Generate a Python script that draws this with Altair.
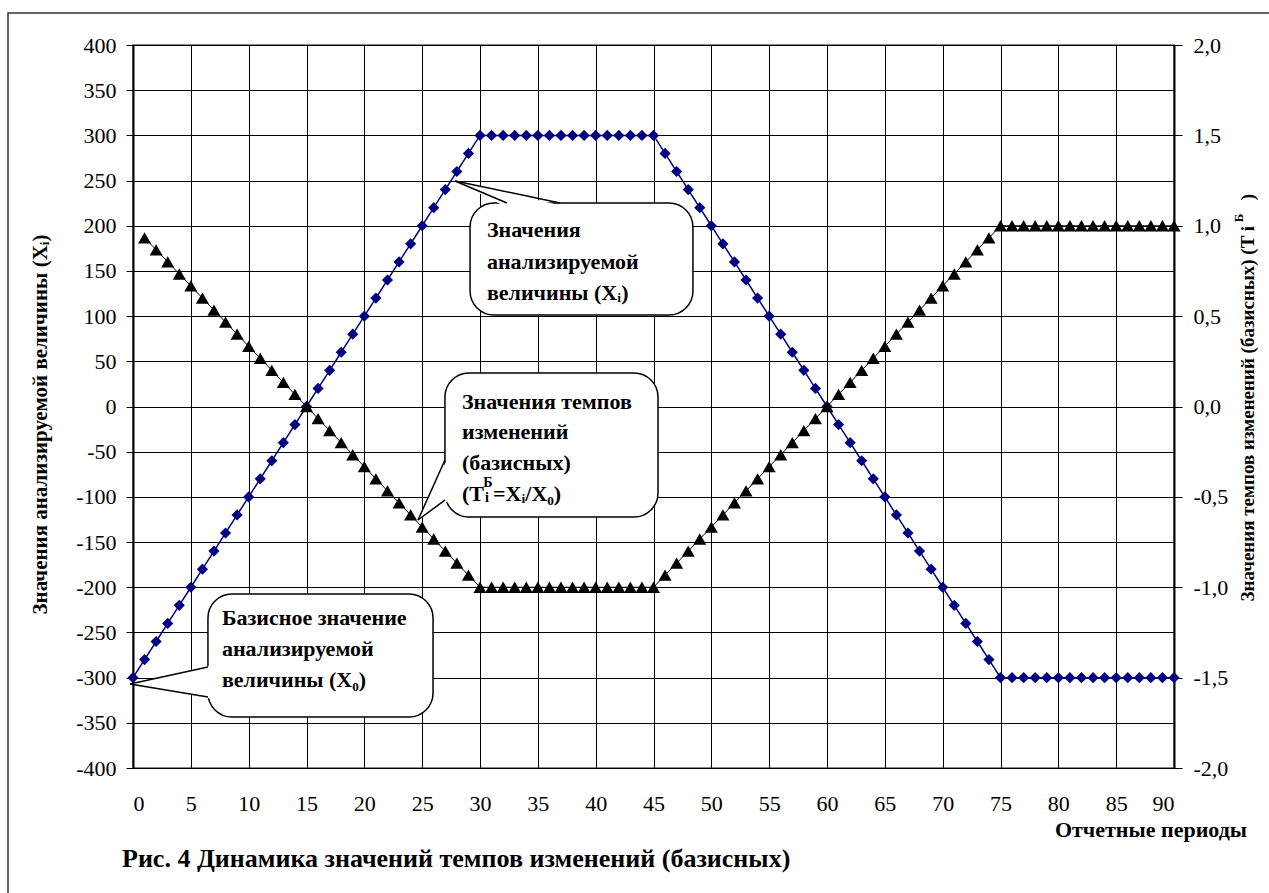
import altair as alt
import pandas as pd

FONT = "'Liberation Serif', 'Times New Roman', 'DejaVu Serif', serif"

# ---- data ----
periods = [0, 1, 2, 3, 4, 5, 6, 7, 8, 9, 10, 11, 12, 13, 14, 15, 16, 17, 18, 19, 20,
           21, 22, 23, 24, 25, 26, 27, 28, 29, 30, 31, 32, 33, 34, 35, 36, 37, 38, 39, 40,
           41, 42, 43, 44, 45, 46, 47, 48, 49, 50, 51, 52, 53, 54, 55, 56, 57, 58, 59, 60,
           61, 62, 63, 64, 65, 66, 67, 68, 69, 70, 71, 72, 73, 74, 75, 76, 77, 78, 79, 80,
           81, 82, 83, 84, 85, 86, 87, 88, 89, 90]

x_values = [-300, -280, -260, -240, -220, -200, -180, -160, -140, -120, -100, -80, -60, -40, -20,
            0, 20, 40, 60, 80, 100, 120, 140, 160, 180, 200, 220, 240, 260, 280, 300,
            300, 300, 300, 300, 300, 300, 300, 300, 300, 300, 300, 300, 300, 300, 300,
            280, 260, 240, 220, 200, 180, 160, 140, 120, 100, 80, 60, 40, 20, 0,
            -20, -40, -60, -80, -100, -120, -140, -160, -180, -200, -220, -240, -260, -280, -300,
            -300, -300, -300, -300, -300, -300, -300, -300, -300, -300, -300, -300, -300, -300, -300]

t_periods = periods[1:]
t_values = [0.933, 0.867, 0.8, 0.733, 0.667, 0.6, 0.533, 0.467, 0.4, 0.333, 0.267, 0.2, 0.133, 0.067, 0,
            -0.067, -0.133, -0.2, -0.267, -0.333, -0.4, -0.467, -0.533, -0.6, -0.667, -0.733, -0.8, -0.867, -0.933, -1,
            -1, -1, -1, -1, -1, -1, -1, -1, -1, -1, -1, -1, -1, -1, -1,
            -0.933, -0.867, -0.8, -0.733, -0.667, -0.6, -0.533, -0.467, -0.4, -0.333, -0.267, -0.2, -0.133, -0.067, 0,
            0.067, 0.133, 0.2, 0.267, 0.333, 0.4, 0.467, 0.533, 0.6, 0.667, 0.733, 0.8, 0.867, 0.933, 1,
            1, 1, 1, 1, 1, 1, 1, 1, 1, 1, 1, 1, 1, 1, 1]

x_ticks = [0, 5, 10, 15, 20, 25, 30, 35, 40, 45, 50, 55, 60, 65, 70, 75, 80, 85, 90]
left_ticks = [-400, -350, -300, -250, -200, -150, -100, -50, 0, 50, 100, 150, 200, 250, 300, 350, 400]
right_ticks = [-2.0, -1.5, -1.0, -0.5, 0.0, 0.5, 1.0, 1.5, 2.0]

df_x = pd.DataFrame({"period": periods, "value": x_values})
df_t = pd.DataFrame({"period": t_periods, "value": t_values})

# ---- callout annotations (in data units of the left axis) ----
boxes = pd.DataFrame({
    "x": [6.48, 29.14, 26.97],
    "x2": [25.94, 48.41, 45.39],
    "y": [-207.5, 225.2, 37.1],
    "y2": [-343.6, 101.2, -122.3],
})
ptr_v1 = pd.DataFrame({"x": [-0.26, 6.70], "y": [-307.0, -286.5], "y2": [-307.0, -323.2]})
ptr_v3 = pd.DataFrame({"x": [24.64, 27.20], "y": [-125.6, -57.5], "y2": [-125.6, -105.2]})
ptr_h2 = pd.DataFrame({"y": [249.5, 221.9], "x": [27.84, 32.1], "x2": [27.84, 37.2]})
ptr_edges = pd.DataFrame({
    "x": [-0.26, -0.26, 24.64, 24.64, 27.84, 27.84],
    "y": [-307.0, -307.0, -125.6, -125.6, 249.5, 249.5],
    "x2": [6.48, 6.48, 26.97, 26.97, 32.33, 36.92],
    "y2": [-288.2, -321.4, -59.2, -103.5, 225.2, 225.2],
})

callout_lines = pd.DataFrame({
    "x": [7.69, 7.69, 7.69, 30.6, 30.6, 30.6, 28.44, 28.44, 28.44, 28.44, 31.12],
    "y": [-234.0, -268.3, -302.6, 195.3, 159.9, 125.6, 5.0, -28.2, -62.5, -96.8, -96.8],
    "text": ["Базисное значение", "анализируемой", "величины (X₀)",
             "Значения", "анализируемой", "величины (Xᵢ)",
             "Значения темпов", "изменений", "(базисных)", "(T", "=Xᵢ/X₀)"],
})
small_marks = pd.DataFrame({"x": [30.60, 30.68], "y": [-101.5, -85.0], "text": ["i", "Б"]})

one = pd.DataFrame({"k": [0]})

xs = alt.Scale(domain=[0, 90], nice=False, zero=False)
ys_left = alt.Scale(domain=[-400, 400], nice=False, zero=False)
ys_right = alt.Scale(domain=[-2, 2], nice=False, zero=False)

x_axis = alt.Axis(values=x_ticks, labelExpr="'' + datum.value", grid=True, gridColor="black",
                  gridWidth=1, gridOpacity=1, ticks=False, domain=False, labelPadding=25,
                  labelFont=FONT, labelFontSize=22, labelColor="black", title=None)
left_axis = alt.Axis(values=left_ticks, labelExpr="'' + datum.value", grid=True, gridColor="black",
                     gridWidth=1, gridOpacity=1, tickSize=7, tickColor="black", labelPadding=10,
                     domainColor="black", domainWidth=2,
                     labelFont=FONT, labelFontSize=22, labelColor="black",
                     title="Значения анализируемой величины (Xᵢ)", titleFont=FONT, titleFontSize=21,
                     titleFontWeight="bold", titleColor="black", titleAngle=270,
                     titleX=-93, titleY=379, titleAlign="center", titleBaseline="middle")
right_axis = alt.Axis(values=right_ticks, orient="right",
                      labelExpr="(datum.value < 0 ? '-' : '') + replace(format(abs(datum.value), '.1f'), '.', ',')",
                      grid=False, tickSize=8, tickColor="black", labelPadding=11,
                      domainColor="black", domainWidth=2,
                      labelFont=FONT, labelFontSize=22, labelColor="black", title=None)

X = lambda f: alt.X(f, type="quantitative", scale=xs, axis=x_axis)
YL = lambda f: alt.Y(f, type="quantitative", scale=ys_left, axis=left_axis)
YR = lambda f: alt.Y(f, type="quantitative", scale=ys_right, axis=right_axis)

blue_line = alt.Chart(df_x).mark_line(color="#000080", strokeWidth=1.5).encode(
    x=X("period"), y=YL("value"))
blue_pts = alt.Chart(df_x).mark_point(shape="diamond", filled=True, color="#000080", size=125, opacity=1).encode(
    x=X("period"), y=YL("value"))

box_layer = alt.Chart(boxes).mark_rect(fill="white", stroke="black", strokeWidth=1.5, cornerRadius=24).encode(
    x=X("x"), x2="x2", y=YL("y"), y2="y2")
p1 = alt.Chart(ptr_v1).mark_area(fill="white", orient="vertical", opacity=1).encode(
    x=X("x"), y=YL("y"), y2="y2")
p3 = alt.Chart(ptr_v3).mark_area(fill="white", orient="vertical", opacity=1).encode(
    x=X("x"), y=YL("y"), y2="y2")
p2 = alt.Chart(ptr_h2).mark_area(fill="white", orient="horizontal", opacity=1).encode(
    y=YL("y"), x=X("x"), x2="x2")
edges = alt.Chart(ptr_edges).mark_rule(color="black", strokeWidth=1.5).encode(
    x=X("x"), y=YL("y"), x2="x2", y2="y2")
texts = alt.Chart(callout_lines).mark_text(font=FONT, fontSize=22, fontWeight="bold", align="left",
                                           baseline="middle", color="black").encode(
    x=X("x"), y=YL("y"), text="text:N")
smalls = alt.Chart(small_marks).mark_text(font=FONT, fontSize=14, fontWeight="bold", align="center",
                                          baseline="middle", color="black").encode(
    x=X("x"), y=YL("y"), text="text:N")

border = alt.Chart(one).mark_rect(fill="white", fillOpacity=0, stroke="#333333", strokeWidth=1.5).encode(
    x=alt.value(-125), x2=alt.value(1200), y=alt.value(-32), y2=alt.value(900))
xlabel = alt.Chart(one).mark_text(text="Отчетные периоды", font=FONT, fontSize=22, fontWeight="bold",
                                  align="right", baseline="middle", color="black").encode(
    x=alt.value(1114), y=alt.value(785))
caption = alt.Chart(one).mark_text(text="Рис. 4 Динамика значений темпов изменений (базисных)", font=FONT,
                                   fontSize=26, fontWeight="bold", align="left", baseline="middle",
                                   color="black").encode(x=alt.value(-11), y=alt.value(814))
rt_main = alt.Chart(one).mark_text(text="Значения темпов изменений (базисных) (T i", font=FONT, fontSize=19,
                                   fontWeight="bold", angle=270, align="right", baseline="middle",
                                   color="black").encode(x=alt.value(1115), y=alt.value(181))
rt_sup = alt.Chart(one).mark_text(text="Б", font=FONT, fontSize=13, fontWeight="bold", angle=270,
                                  align="center", baseline="middle", color="black").encode(
    x=alt.value(1106), y=alt.value(173))
rt_close = alt.Chart(one).mark_text(text=")", font=FONT, fontSize=19, fontWeight="bold", angle=270,
                                    align="center", baseline="middle", color="black").encode(
    x=alt.value(1115), y=alt.value(152))

black_line = alt.Chart(df_t).mark_line(color="black", strokeWidth=1).encode(
    x=X("period"), y=YR("value"))
black_pts = alt.Chart(df_t).mark_point(shape="triangle-up", filled=True, color="black", size=170, opacity=1).encode(
    x=X("period"), y=YR("value"))

left = alt.layer(blue_line, blue_pts, box_layer, p1, p3, p2, edges, texts, smalls,
                 border, xlabel, caption, rt_main, rt_sup, rt_close)
right = alt.layer(black_line, black_pts)

chart = alt.layer(left, right).resolve_scale(y="independent").properties(
    width=1041, height=723,
    padding={"left": 133, "top": 45, "right": 95, "bottom": 125},
    autosize=alt.AutoSizeParams(type="none"),
    background="white",
).configure_view(stroke="#888888", strokeWidth=2)

chart.save("out.html", embed_options={"renderer": "svg", "actions": False})
